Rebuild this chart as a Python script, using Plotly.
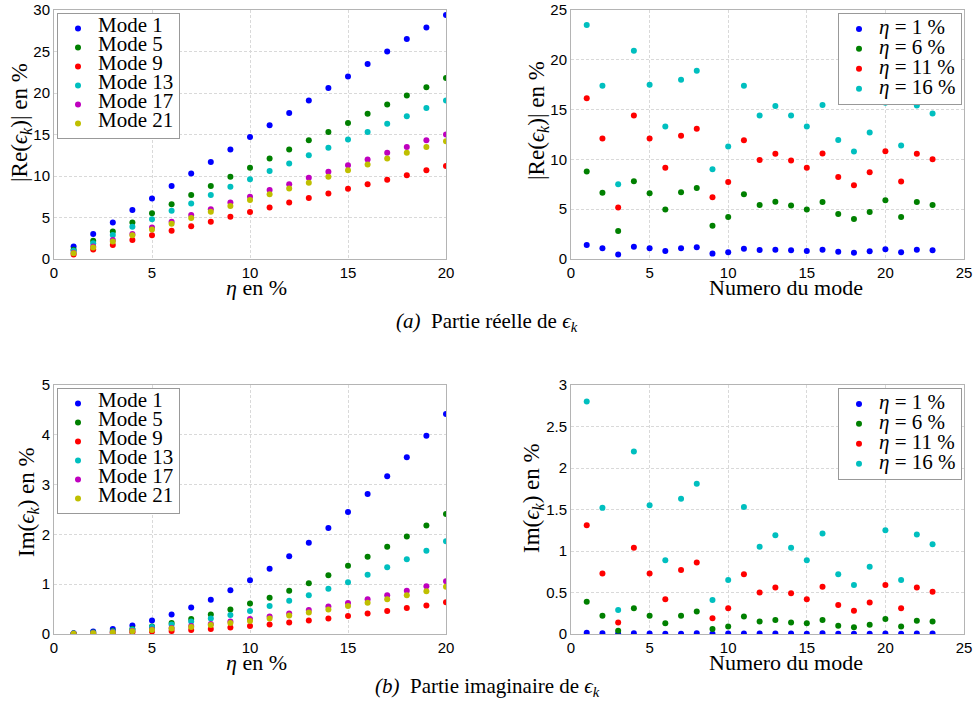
import plotly.graph_objects as go

# ---------------- data ----------------
eta_pct = [1, 2, 3, 4, 5, 6, 7, 8, 9, 10, 11, 12, 13, 14, 15, 16, 17, 18, 19, 20]
mode_names = ["Mode 1", "Mode 5", "Mode 9", "Mode 13", "Mode 17", "Mode 21"]

re_mode1 = [1.5, 3.0, 4.4, 5.9, 7.3, 8.8, 10.3, 11.7, 13.2, 14.7, 16.1, 17.6, 19.1, 20.6, 22.0, 23.5, 25.0, 26.5, 27.9, 29.4]
re_mode5 = [1.1, 2.2, 3.3, 4.4, 5.5, 6.6, 7.7, 8.8, 9.9, 11.0, 12.1, 13.2, 14.3, 15.3, 16.4, 17.5, 18.6, 19.7, 20.7, 21.8]
re_mode9 = [0.55, 1.15, 1.7, 2.3, 2.85, 3.4, 3.95, 4.5, 5.1, 5.65, 6.2, 6.8, 7.35, 7.9, 8.45, 9.0, 9.55, 10.1, 10.7, 11.2]
re_mode13 = [1.0, 1.9, 2.9, 3.9, 4.8, 5.8, 6.7, 7.7, 8.7, 9.6, 10.6, 11.5, 12.5, 13.4, 14.4, 15.3, 16.3, 17.2, 18.2, 19.1]
re_mode17 = [0.75, 1.5, 2.3, 3.0, 3.8, 4.5, 5.3, 6.0, 6.8, 7.5, 8.3, 9.0, 9.8, 10.5, 11.3, 12.0, 12.8, 13.5, 14.3, 15.0]
re_mode21 = [0.7, 1.4, 2.1, 2.85, 3.55, 4.25, 4.95, 5.7, 6.4, 7.1, 7.8, 8.5, 9.2, 9.9, 10.7, 11.4, 12.1, 12.8, 13.5, 14.2]

im_mode1 = [0.015, 0.05, 0.1, 0.17, 0.27, 0.39, 0.53, 0.69, 0.88, 1.08, 1.31, 1.56, 1.83, 2.13, 2.45, 2.81, 3.17, 3.55, 3.98, 4.42]
im_mode5 = [0.01, 0.03, 0.06, 0.1, 0.15, 0.22, 0.3, 0.39, 0.49, 0.61, 0.73, 0.87, 1.02, 1.18, 1.37, 1.55, 1.75, 1.96, 2.18, 2.41]
im_mode9 = [0.003, 0.01, 0.02, 0.035, 0.05, 0.06, 0.08, 0.1, 0.13, 0.16, 0.19, 0.23, 0.27, 0.31, 0.36, 0.41, 0.46, 0.52, 0.57, 0.64]
im_mode13 = [0.01, 0.025, 0.05, 0.09, 0.14, 0.19, 0.25, 0.31, 0.38, 0.46, 0.56, 0.67, 0.78, 0.91, 1.04, 1.19, 1.34, 1.5, 1.67, 1.86]
im_mode17 = [0.005, 0.015, 0.035, 0.06, 0.09, 0.12, 0.16, 0.2, 0.25, 0.3, 0.35, 0.41, 0.48, 0.55, 0.62, 0.7, 0.78, 0.87, 0.96, 1.06]
im_mode21 = [0.005, 0.013, 0.03, 0.055, 0.08, 0.11, 0.14, 0.18, 0.22, 0.26, 0.31, 0.37, 0.43, 0.49, 0.56, 0.63, 0.7, 0.78, 0.86, 0.95]

mode_number = [1, 2, 3, 4, 5, 6, 7, 8, 9, 10, 11, 12, 13, 14, 15, 16, 17, 18, 19, 20, 21, 22, 23]
eta_names = ["<i>η</i> = 1 %", "<i>η</i> = 6 %", "<i>η</i> = 11 %", "<i>η</i> = 16 %"]

re_eta1 = [1.41, 1.07, 0.44, 1.24, 1.07, 0.8, 1.07, 1.17, 0.54, 0.67, 1.04, 0.9, 0.94, 0.87, 0.8, 0.94, 0.74, 0.64, 0.77, 0.97, 0.67, 0.94, 0.87]
re_eta6 = [8.78, 6.64, 2.82, 7.81, 6.6, 4.96, 6.7, 7.14, 3.35, 4.22, 6.5, 5.43, 5.76, 5.36, 4.96, 5.73, 4.52, 4.02, 4.73, 5.9, 4.22, 5.73, 5.43]
re_eta11 = [16.15, 12.1, 5.16, 14.4, 12.1, 9.15, 12.37, 13.07, 6.2, 7.74, 11.93, 9.95, 10.56, 9.89, 9.15, 10.59, 8.24, 7.4, 8.71, 10.82, 7.77, 10.56, 10.02]
re_eta16 = [23.5, 17.4, 7.5, 20.9, 17.5, 13.3, 18.0, 18.9, 9.0, 11.3, 17.4, 14.4, 15.35, 14.4, 13.3, 15.45, 11.96, 10.8, 12.7, 15.7, 11.4, 15.4, 14.6]

im_eta1 = [0.015, 0.008, 0.002, 0.01, 0.007, 0.004, 0.003, 0.008, 0.002, 0.005, 0.007, 0.006, 0.006, 0.006, 0.004, 0.008, 0.003, 0.002, 0.003, 0.006, 0.002, 0.006, 0.006]
im_eta6 = [0.39, 0.22, 0.04, 0.31, 0.22, 0.13, 0.22, 0.27, 0.06, 0.09, 0.21, 0.15, 0.17, 0.14, 0.13, 0.17, 0.1, 0.08, 0.11, 0.18, 0.09, 0.16, 0.15]
im_eta11 = [1.31, 0.73, 0.14, 1.04, 0.73, 0.42, 0.77, 0.86, 0.19, 0.31, 0.72, 0.5, 0.56, 0.49, 0.42, 0.57, 0.35, 0.28, 0.38, 0.59, 0.31, 0.56, 0.51]
im_eta16 = [2.8, 1.52, 0.29, 2.2, 1.55, 0.89, 1.63, 1.81, 0.41, 0.65, 1.53, 1.05, 1.19, 1.04, 0.89, 1.21, 0.72, 0.59, 0.81, 1.25, 0.65, 1.2, 1.08]

colors6 = ["#0000FF", "#008000", "#FF0000", "#00BFBF", "#BF00BF", "#BFBF00"]

# ---------------- figure ----------------
fig = go.Figure()

SERIF = "Liberation Serif"
SANS = "Liberation Sans"
LEG_TXT = '<span style="font-size:21px">{}</span>'

def add_series(xs, ys_list, names, xa, ya, legend):
    for ys, name, col in zip(ys_list, names, colors6):
        fig.add_trace(go.Scatter(
            x=xs, y=ys, name=LEG_TXT.format(name), mode="markers",
            marker=dict(color=col, size=6),
            xaxis=xa, yaxis=ya, legend=legend,
        ))

add_series(eta_pct, [re_mode1, re_mode5, re_mode9, re_mode13, re_mode17, re_mode21], mode_names, "x", "y", "legend")
add_series(mode_number, [re_eta1, re_eta6, re_eta11, re_eta16], eta_names, "x2", "y2", "legend2")
add_series(eta_pct, [im_mode1, im_mode5, im_mode9, im_mode13, im_mode17, im_mode21], mode_names, "x3", "y3", "legend3")
add_series(mode_number, [im_eta1, im_eta6, im_eta11, im_eta16], eta_names, "x4", "y4", "legend4")

W, H = 975, 715
def px_x(p):
    return p / W
def px_y(p):
    return 1 - p / H

axis_common = dict(
    showline=True, linecolor="#b4b4b4", linewidth=1, mirror=True,
    showgrid=True, gridcolor="#d9d9d9", griddash="3px,2px", gridwidth=1,
    zeroline=False, ticks="", tickfont=dict(family=SANS, size=15, color="black"),
    fixedrange=True, automargin=False, ticklabeloverflow="allow",
)

left_dom = [px_x(54), px_x(446)]
right_dom = [px_x(571), px_x(964)]
top_dom = [px_y(259), px_y(10)]
bot_dom = [px_y(634), px_y(385)]

fig.update_layout(
    xaxis=dict(domain=left_dom, range=[0, 20], dtick=5, anchor="y", **axis_common),
    yaxis=dict(domain=top_dom, range=[0, 30], dtick=5, anchor="x", **axis_common),
    xaxis2=dict(domain=right_dom, range=[0, 25], dtick=5, anchor="y2", **axis_common),
    yaxis2=dict(domain=top_dom, range=[0, 25], dtick=5, anchor="x2", **axis_common),
    xaxis3=dict(domain=left_dom, range=[0, 20], dtick=5, anchor="y3", **axis_common),
    yaxis3=dict(domain=bot_dom, range=[0, 5], dtick=1, anchor="x3", **axis_common),
    xaxis4=dict(domain=right_dom, range=[0, 25], dtick=5, anchor="y4", **axis_common),
    yaxis4=dict(domain=bot_dom, range=[0, 3], dtick=0.5, anchor="x4", **axis_common),
)

def legend_cfg(x, y, xanchor, size):
    return dict(
        x=x, y=y, xanchor=xanchor, yanchor="top",
        bgcolor="white", bordercolor="#999999", borderwidth=1,
        font=dict(family=SERIF, size=size, color="black"),
        itemwidth=30, tracegroupgap=0,
    )

fig.update_layout(
    legend=legend_cfg(px_x(57), px_y(13), "left", 10),
    legend2=legend_cfg(px_x(962), px_y(13), "right", 13),
    legend3=legend_cfg(px_x(57), px_y(388), "left", 10),
    legend4=legend_cfg(px_x(962), px_y(388), "right", 13),
)

ann = []
def text_ann(x, y, text, size=23, angle=0, family=SERIF):
    ann.append(dict(x=px_x(x), y=px_y(y), xref="paper", yref="paper", text=text,
                    showarrow=False, textangle=angle, xanchor="center", yanchor="middle",
                    font=dict(family=family, size=size, color="black")))

re_title = "|Re(<i>ϵ</i><sub><i>k</i></sub>)| en %"
im_title = "Im(<i>ϵ</i><sub><i>k</i></sub>) en %"
text_ann(21, 123, re_title, angle=-90)
text_ann(538, 121, re_title, angle=-90)
text_ann(28, 502, im_title, angle=-90)
text_ann(533, 498, im_title, angle=-90)
text_ann(256, 287, "<i>η</i> en %", size=22)
text_ann(256, 662, "<i>η</i> en %", size=22)
text_ann(786, 287, "Numero du mode", size=22)
text_ann(786, 662, "Numero du mode", size=22)
text_ann(487, 322, "<i>(a)</i>&nbsp;&nbsp;Partie réelle de <i>ϵ</i><sub><i>k</i></sub>", size=21)
text_ann(487, 687, "<i>(b)</i>&nbsp;&nbsp;Partie imaginaire de <i>ϵ</i><sub><i>k</i></sub>", size=21)

fig.update_layout(
    width=W, height=H,
    margin=dict(l=0, r=0, t=0, b=0, autoexpand=False),
    paper_bgcolor="white", plot_bgcolor="white",
    annotations=ann,
    showlegend=True,
)

fig.write_html("out.html", config={"displayModeBar": False},
               post_script="document.body.style.margin='0px';")
